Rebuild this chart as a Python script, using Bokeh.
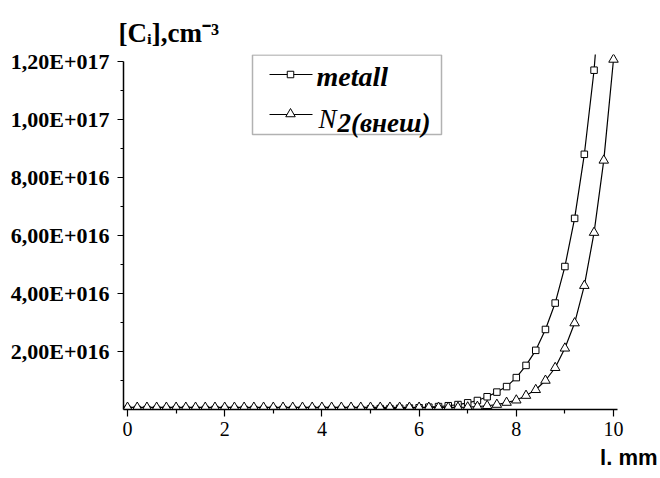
from bokeh.plotting import figure
from bokeh.models import Range1d, FixedTicker, Label, BoxAnnotation, CustomJSTickFormatter, Title
from bokeh.embed import file_html
from bokeh.resources import INLINE

# ---------------- data ----------------
x_mm = [0.0, 0.2, 0.4, 0.6, 0.8, 1.0, 1.2, 1.4, 1.6, 1.8,
        2.0, 2.2, 2.4, 2.6, 2.8, 3.0, 3.2, 3.4, 3.6, 3.8,
        4.0, 4.2, 4.4, 4.6, 4.8, 5.0, 5.2, 5.4, 5.6, 5.8,
        6.0, 6.2, 6.4, 6.6, 6.8, 7.0, 7.2, 7.4, 7.6, 7.8,
        8.0, 8.2, 8.4, 8.6, 8.8, 9.0, 9.2, 9.4, 9.6, 9.8, 10.0]

metall = [0, 0, 0, 0, 0, 0, 0, 0, 0, 0,
          0, 0, 0, 0, 0, 0, 0, 0, 0, 0,
          0, 0, 0, 0, 0, 2e14, 3e14, 3e14, 4e14, 5e14,
          6e14, 8e14, 1.0e15, 1.3e15, 1.7e15, 2.3e15, 3.1e15, 4.4e15, 6.0e15, 7.9e15,
          1.10e16, 1.52e16, 2.04e16, 2.76e16, 3.67e16, 4.93e16, 6.59e16, 8.8e16, 1.17e17, 1.6e17, 2.1e17]

n2_ext = [7e14, 7e14, 7e14, 7e14, 7e14, 7e14, 7e14, 7e14, 7e14, 7e14,
          7e14, 7e14, 7e14, 7e14, 7e14, 7e14, 7e14, 7e14, 7e14, 7e14,
          7e14, 7e14, 7e14, 7e14, 7e14, 7e14, 7e14, 7e14, 7e14, 7e14,
          7e14, 7e14, 7e14, 7e14, 7e14, 8e14, 1.0e15, 1.3e15, 1.7e15, 2.4e15,
          3.2e15, 4.8e15, 6.8e15, 1.0e16, 1.44e16, 2.11e16, 2.98e16, 4.27e16, 6.1e16, 8.59e16, 1.207e17]

y_ticks = [2e16, 4e16, 6e16, 8e16, 1e17, 1.2e17]
y_tick_labels = ["2,00E+016", "4,00E+016", "6,00E+016", "8,00E+016", "1,00E+017", "1,20E+017"]
y_minor_ticks = [1e16, 3e16, 5e16, 7e16, 9e16, 1.1e17]
x_ticks = [0, 2, 4, 6, 8, 10]
x_minor_ticks = [1, 3, 5, 7, 9]

y_title = "[Cᵢ],cm⁻³"
x_title = "l. mm"
legend_names = ["metall", "N", "2(внеш)"]

# ---------------- layout (page pixels) ----------------
W, H = 660, 478
X0_PX, PX_PER_MM = 127.0, 48.6
Y0_PX, PX_PER_UNIT = 409.0, 58.0 / 2e16
FRAME_L, FRAME_R, FRAME_T, FRAME_B = 123, 620, 54, 409


def dx(px):
    return (px - X0_PX) / PX_PER_MM


def dy(py):
    return (Y0_PX - py) / PX_PER_UNIT


p = figure(width=W, height=H,
           x_range=Range1d(dx(FRAME_L), dx(FRAME_R)),
           y_range=Range1d(dy(FRAME_B), dy(FRAME_T)),
           output_backend="svg", toolbar_location=None,
           min_border_left=FRAME_L, min_border_right=W - FRAME_R,
           min_border_top=FRAME_T, min_border_bottom=H - FRAME_B)
p.outline_line_color = None
p.xgrid.visible = False
p.ygrid.visible = False
p.background_fill_color = "white"
p.border_fill_color = "white"

SERIF = "Liberation Serif"

# y-axis title as the figure title (top-left, outside the frame)
p.title.text = y_title
p.title.align = "left"
p.title.offset = -5
p.title.standoff = 14
p.title.text_font = SERIF
p.title.text_font_style = "bold"
p.title.text_font_size = "27px"
p.title.text_color = "black"

xa = p.xaxis[0]
xa.ticker = FixedTicker(ticks=x_ticks, minor_ticks=x_minor_ticks)
xa.bounds = (dx(FRAME_L), 10.08)
xa.axis_line_width = 1.5
xa.major_tick_line_width = 1.2
xa.minor_tick_line_width = 1.2
xa.major_tick_out = 7
xa.major_tick_in = 0
xa.minor_tick_out = 4
xa.minor_tick_in = 0
xa.major_label_standoff = 5
xa.major_label_text_font = SERIF
xa.major_label_text_font_size = "20px"
xa.major_label_text_color = "black"

ya = p.yaxis[0]
ya.ticker = FixedTicker(ticks=y_ticks, minor_ticks=y_minor_ticks)
ya.bounds = (0, 1.2e17)
ya.axis_line_width = 1.5
ya.major_tick_line_width = 1.2
ya.minor_tick_line_width = 1.2
ya.major_tick_out = 6
ya.major_tick_in = 0
ya.minor_tick_out = 3
ya.minor_tick_in = 0
ya.major_label_standoff = 8
ya.major_label_text_font = SERIF
ya.major_label_text_font_style = "bold"
ya.major_label_text_font_size = "22px"
ya.major_label_text_color = "black"
ya.formatter = CustomJSTickFormatter(args=dict(tvals=y_ticks, tlabels=y_tick_labels), code="""
    for (let i = 0; i < tvals.length; i++) {
        if (Math.abs(tvals[i] - tick) < 1e12) { return tlabels[i]; }
    }
    return "";
""")

# x-axis title below the axis, right aligned
p.add_layout(Title(text=x_title, align="right", offset=-37, standoff=8,
                   text_font="Liberation Sans", text_font_style="bold",
                   text_font_size="22px", text_color="black"), "below")

# ---------------- series ----------------
p.line(x_mm, metall, line_color="black", line_width=1.2)
p.line(x_mm, n2_ext, line_color="black", line_width=1.2)
p.scatter(x_mm, metall, marker="square", size=6.5, fill_color="white",
          line_color="black", line_width=1)
p.scatter(x_mm, n2_ext, marker="triangle", size=9.5, fill_color="white",
          line_color="black", line_width=1)

# ---------------- legend (drawn) ----------------
p.add_layout(BoxAnnotation(left=dx(252), right=dx(441), top=dy(54.5), bottom=dy(134),
                           fill_color=None, line_color="black", line_width=1.5))
p.segment(x0=[dx(269), dx(269)], y0=[dy(74), dy(114)], x1=[dx(312), dx(312)], y1=[dy(74), dy(114)],
          line_color="black", line_width=1)
p.scatter([dx(290)], [dy(74)], marker="square", size=6.5, fill_color="white", line_color="black")
p.scatter([dx(290)], [dy(113.5)], marker="triangle", size=9.5, fill_color="white", line_color="black")


def lab(text, px, py, size, font=SERIF, style="normal", align="left"):
    p.add_layout(Label(x=px, y=py, x_units="canvas", y_units="canvas", text=text,
                       text_font=font, text_font_style=style,
                       text_font_size=size, text_color="black", text_align=align,
                       text_baseline="alphabetic"))


lab(legend_names[0], 316, 76, "28px", style="bold italic")
lab(legend_names[1], 318, 118, "27px", style="italic")
lab(legend_names[2], 337, 122, "27px", style="bold italic")

html = file_html(p, INLINE)
open("out.html", "w").write(html)
